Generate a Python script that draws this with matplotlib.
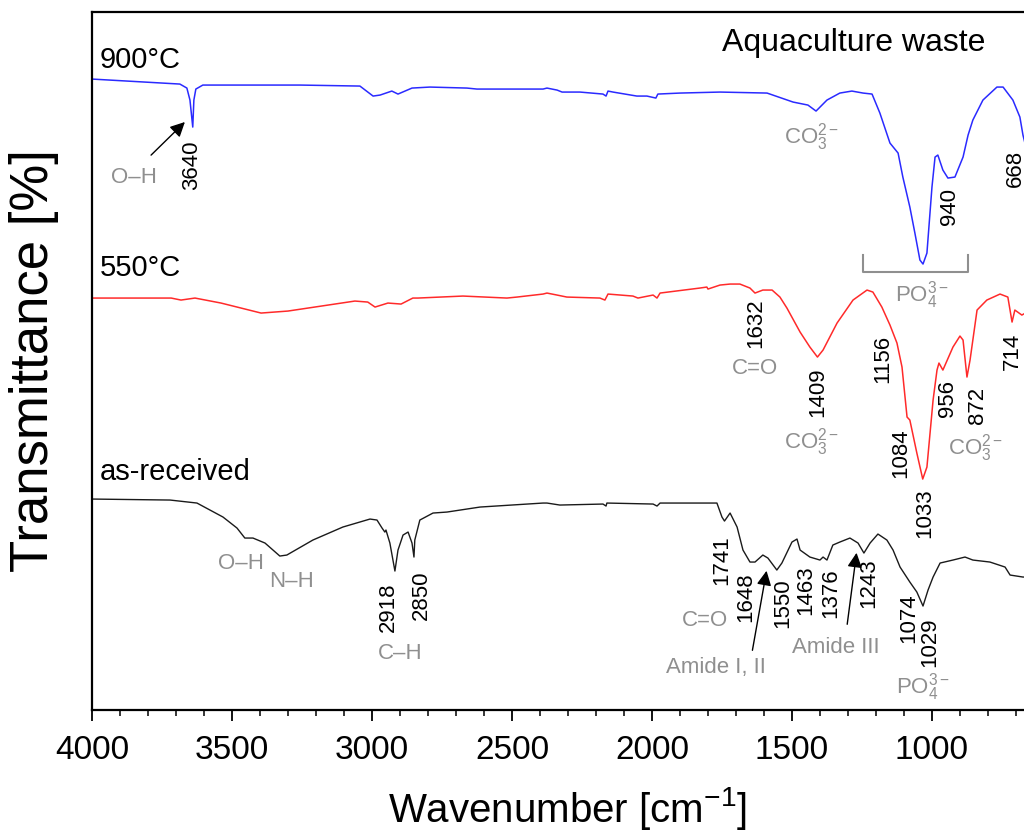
import matplotlib
matplotlib.use("Agg")
import matplotlib.pyplot as plt
from matplotlib.ticker import MultipleLocator

plt.rcParams["font.family"] = ["Liberation Sans", "DejaVu Sans"]
plt.rcParams["mathtext.fontset"] = "custom"
plt.rcParams["mathtext.rm"] = "Liberation Sans"
plt.rcParams["mathtext.it"] = "Liberation Sans:italic"
plt.rcParams["mathtext.bf"] = "Liberation Sans:bold"

GRAY = "#8f8f8f"

# 900 C sample (offset transmittance, arbitrary units)
wn_900 = [4000, 3686, 3661, 3650, 3640, 3636, 3629, 3604, 3257, 3043, 2996, 2971,
          2929, 2907, 2857, 2793, 2661, 2625, 2389, 2375, 2339, 2321, 2257, 2175,
          2164, 2157, 2139, 2054, 2018, 1986, 1979, 1900, 1757, 1589, 1496, 1443,
          1414, 1375, 1329, 1286, 1246, 1214, 1186, 1150, 1121, 1104, 1079, 1061,
          1043, 1032, 1018, 1000, 989, 979, 961, 943, 918, 889, 871, 854, 818,
          768, 746, 711, 686, 675, 660]
t_900 = [631, 626, 622, 610, 583, 610, 621, 625, 625, 624, 614, 615,
         619, 616, 622, 623, 622, 621, 621, 622, 620, 618, 618, 616,
         614, 619, 618, 614, 614, 612, 616, 617, 618, 617, 608, 605,
         599, 610, 617, 619, 617, 616, 597, 567, 557, 533, 503, 477,
         450, 446, 457, 523, 553, 555, 540, 532, 533, 553, 575, 590, 610,
         623, 623, 610, 593, 575, 558]

# 550 C sample
wn_550 = [4000, 3717, 3682, 3632, 3539, 3396, 3300, 3061, 3015, 2989, 2943, 2896,
          2854, 2836, 2675, 2518, 2482, 2389, 2375, 2339, 2304, 2186, 2168, 2157,
          2068, 2050, 1996, 1982, 1971, 1829, 1804, 1800, 1757, 1721, 1686, 1650,
          1632, 1604, 1571, 1543, 1518, 1471, 1436, 1409, 1389, 1339, 1282, 1232,
          1211, 1179, 1150, 1125, 1107, 1089, 1079, 1054, 1033, 1018, 996, 982,
          975, 961, 925, 900, 889, 875, 864, 839, 804, 757, 729, 714, 704, 679, 660]
t_550 = [412, 412, 410, 412, 407, 397, 399, 409, 408, 403, 407, 406,
         412, 412, 414, 412, 413, 416, 417, 415, 413, 412, 410, 416,
         414, 412, 415, 412, 417, 422, 423, 421, 425, 426, 426, 422,
         417, 420, 420, 413, 402, 378, 363, 353, 360, 387, 410, 420,
         418, 403, 385, 367, 343, 293, 290, 257, 231, 243, 310, 340,
         347, 340, 363, 374, 370, 333, 350, 400, 410, 416, 413, 388, 400, 395, 398]

# as-received sample
wn_raw = [4000, 3721, 3625, 3532, 3482, 3454, 3425, 3382, 3329, 3304, 3211, 3104,
          3007, 2982, 2964, 2954, 2950, 2936, 2918, 2907, 2889, 2871, 2857, 2850,
          2847, 2829, 2782, 2732, 2614, 2389, 2375, 2329, 2175, 2164, 2161, 1996,
          1982, 1971, 1793, 1768, 1750, 1741, 1721, 1696, 1675, 1650, 1632, 1604,
          1586, 1554, 1536, 1500, 1482, 1471, 1436, 1400, 1389, 1375, 1354, 1329,
          1293, 1264, 1243, 1221, 1193, 1161, 1139, 1114, 1079, 1054, 1032, 1014,
          996, 971, 925, 882, 854, 793, 739, 721, 675, 660]
t_raw = [211, 210, 207, 193, 182, 172, 172, 167, 154, 155, 170, 183,
         191, 190, 182, 178, 180, 167, 139, 160, 175, 178, 167, 153,
         170, 190, 197, 198, 203, 207, 207, 205, 206, 204, 207, 206,
         204, 207, 207, 207, 193, 189, 197, 183, 160, 148, 148, 155,
         152, 140, 147, 168, 171, 160, 153, 150, 153, 150, 165, 168,
         172, 167, 157, 167, 176, 170, 160, 143, 128, 118, 104, 120,
         133, 147, 150, 153, 150, 148, 143, 135, 133, 133]

# peak labels: (text, wavenumber position, top of label)
peaks_900 = [("3640", 3643, 570), ("940", 936, 522), ("668", 702, 560)]
peaks_550 = [("1632", 1629, 412), ("1409", 1407, 343), ("1156", 1175, 375),
             ("1084", 1111, 282), ("1033", 1025, 222), ("956", 943, 330),
             ("872", 839, 323), ("714", 714, 377)]
peaks_raw = [("2918", 2943, 128), ("2850", 2825, 140), ("1741", 1750, 175),
             ("1648", 1664, 138), ("1550", 1532, 132), ("1463", 1450, 145),
             ("1376", 1361, 142), ("1243", 1225, 152), ("1074", 1082, 117),
             ("1029", 1007, 93)]

# group labels in gray: (text, wavenumber, height)
groups = [("O–H", 3850, 533), (r"CO$_3^{2-}$", 1429, 573), (r"PO$_4^{3-}$", 1036, 415),
          ("C=O", 1632, 342), (r"CO$_3^{2-}$", 1429, 268), (r"CO$_3^{2-}$", 843, 262),
          ("O–H", 3468, 147), ("N–H", 3286, 129), ("C–H", 2900, 57),
          ("C=O", 1811, 90), ("Amide I, II", 1771, 43), ("Amide III", 1343, 63),
          (r"PO$_4^{3-}$", 1032, 23)]

fig = plt.figure(figsize=(10.24, 8.38), dpi=100)
ax = fig.add_axes([0.0898, 0.1527, 0.9297, 0.8329])

ax.plot(wn_900, t_900, color="#2a2aff", lw=1.1)
ax.plot(wn_550, t_550, color="#ff2a2a", lw=1.1)
ax.plot(wn_raw, t_raw, color="#1a1a1a", lw=1.0)

for peaks in (peaks_900, peaks_550, peaks_raw):
    for txt, w, h in peaks:
        ax.text(w, h, txt, rotation=90, ha="center", va="top", fontsize=16)

for txt, w, h in groups:
    ax.text(w, h, txt, ha="center", va="center", fontsize=16, color=GRAY)

ax.text(3971, 650, "900°C", fontsize=21, va="center")
ax.text(3971, 442, "550°C", fontsize=21, va="center")
ax.text(3971, 238, "as-received", fontsize=21, va="center")
ax.text(1750, 667, "Aquaculture waste", fontsize=23, va="center")

# phosphate bracket
ax.plot([1246, 1246, 871, 871], [455, 438, 438, 455], color=GRAY, lw=1.5)

arrow = dict(arrowstyle="-|>", color="k", lw=1.0, mutation_scale=22)
ax.annotate("", xy=(3661, 590), xytext=(3796, 553), arrowprops=arrow)
ax.annotate("", xy=(1589, 142), xytext=(1643, 57), arrowprops=arrow)
ax.annotate("", xy=(1268, 160), xytext=(1304, 83), arrowprops=arrow)

ax.set_xlim(4000, 600)
ax.set_ylim(0, 698)
ax.xaxis.set_major_locator(MultipleLocator(500))
ax.xaxis.set_minor_locator(MultipleLocator(100))
ax.set_yticks([])
ax.tick_params(axis="x", which="major", direction="out", length=8, width=1.3,
               pad=10, labelsize=24)
ax.tick_params(axis="x", which="minor", direction="out", length=4.5, width=1.1)
for s in ax.spines.values():
    s.set_linewidth(1.6)

ax.set_xlabel(r"Wavenumber [cm$^{-1}$]", fontsize=29, labelpad=14)
ax.set_ylabel("Transmittance [%]", fontsize=38, labelpad=24)

fig.savefig("out.png", dpi=100)
